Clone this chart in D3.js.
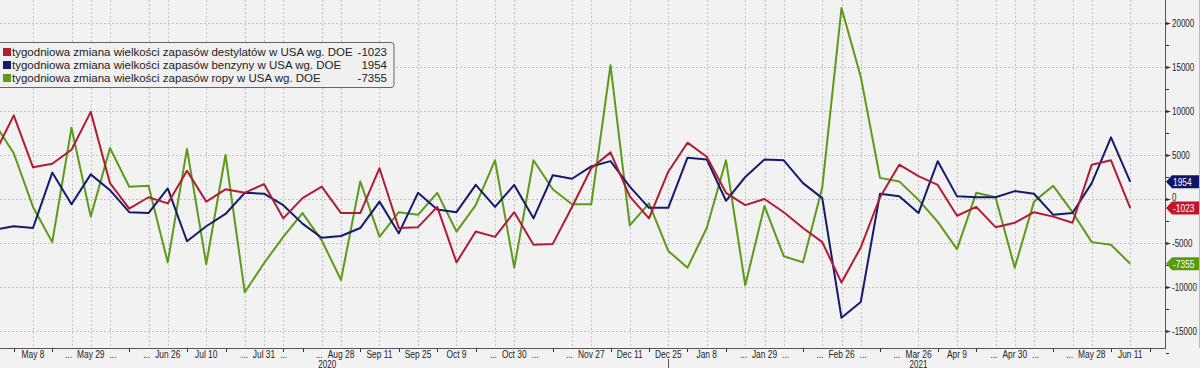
<!DOCTYPE html>
<html>
<head>
<meta charset="utf-8">
<title>zapasy DOE</title>
<script src="https://d3js.org/d3.v7.min.js"></script>
<style>
  body { margin:0; background:#f2f2f2; }
  svg { display:block; }
  .ax { font-family:"Liberation Sans",sans-serif; font-size:10.5px; fill:#222; }
  .leg { font-family:"Liberation Sans",sans-serif; font-size:11.5px; fill:#222; }
</style>
</head>
<body>
<script>
// weekly data, first point 2020-04-24
var firstDate = "2020-04-24";

var distillates = [5100, 9500, 3600, 4000, 5600, 9900, 1800, -1100, 200, -500,
  3200, -300, 1100, 700, 1700, -2200, 100, 1400, -1600, -1600,
  3500, -3300, -3200, -900, -7200, -3700, -4300, -1500, -5200, -5100,
  -900, 3500, 5300, 300, -2200, 3100, 6400, 4800, 700, -700,
  0, -1500, -3300, -4900, -9500, -5500, 200, 3900, 2600, 1600,
  -1900, -900, -3200, -2700, -1500, -2000, -2700, 3900, 4400, -1023];

var gasoline = [-3500, -3100, -3300, 3000, -600, 2800, 1000, -1500, -1600, 1200,
  -4800, -3100, -1700, 700, 600, -700, -2800, -4400, -4200, -3300,
  -300, -3900, 700, -1200, -1500, 1600, -900, 1600, -2200, 2700,
  2300, 3700, 4300, 1400, -1000, -1000, 4700, 4500, -200, 2500,
  4500, 4400, 1800, 100, -13500, -11700, 600, 300, -1600, 4300,
  300, 200, 200, 900, 600, -1800, -1600, 1800, 7000, 1954];

var crude = [8600, 5200, -900, -4900, 8100, -2000, 5800, 1400, 1500, -7200,
  5700, -7400, 5000, -10600, -7300, -4300, -1600, -4700, -9200, 2000,
  -4300, -1500, -1800, 700, -3700, -700, 4400, -7800, 4400, 1100,
  -600, -600, 15200, -3000, -500, -5900, -7800, -3300, 4400, -9800,
  -800, -6500, -7200, 1300, 21700, 13900, 2400, 2000, -100, -2600,
  -5700, 700, 200, -7800, -300, 1500, -1500, -4900, -5200, -7355];

var seriesNames = [
  "tygodniowa zmiana wielkości zapasów destylatów w USA wg. DOE",
  "tygodniowa zmiana wielkości zapasów benzyny w USA wg. DOE",
  "tygodniowa zmiana wielkości zapasów ropy w USA wg. DOE"
];
var seriesColors = ["#b01c34", "#141a6c", "#5c9a18"];
var tagColors = ["#c0162b", "#0e1568", "#5a9a10"];

var yTicks = [-15000, -10000, -5000, 0, 5000, 10000, 15000, 20000];
var yMinor = [-17500, -12500, -7500, -2500, 2500, 7500, 12500, 17500];

var labelDates = ["2020-05-08", "2020-05-29", "2020-06-26", "2020-07-10", "2020-07-31",
  "2020-08-28", "2020-09-11", "2020-09-25", "2020-10-09", "2020-10-30", "2020-11-27",
  "2020-12-11", "2020-12-25", "2021-01-08", "2021-01-29", "2021-02-26", "2021-03-26",
  "2021-04-09", "2021-04-30", "2021-05-28", "2021-06-11"];
var labelTexts = ["May 8", "May 29", "Jun 26", "Jul 10", "Jul 31", "Aug 28", "Sep 11",
  "Sep 25", "Oct 9", "Oct 30", "Nov 27", "Dec 11", "Dec 25", "Jan 8", "Jan 29", "Feb 26",
  "Mar 26", "Apr 9", "Apr 30", "May 28", "Jun 11"];
// "..." shown before (b), after (a) or on both sides (ba)
var labelDots = ["", "ba", "b", "", "ba", "b", "", "", "", "ba", "b", "", "", "", "ba", "ba",
  "b", "", "ba", "b", ""];

var gridDates = ["2020-05-08", "2020-05-22", "2020-05-29", "2020-06-05", "2020-06-19",
  "2020-06-26", "2020-07-10", "2020-07-24", "2020-07-31", "2020-08-07", "2020-08-21",
  "2020-08-28", "2020-09-11", "2020-09-25", "2020-10-09", "2020-10-23", "2020-10-30",
  "2020-11-20", "2020-11-27", "2020-12-11", "2020-12-25", "2021-01-08", "2021-01-22",
  "2021-01-29", "2021-02-05", "2021-02-19", "2021-02-26", "2021-03-05", "2021-03-26",
  "2021-04-09", "2021-04-23", "2021-04-30", "2021-05-07", "2021-05-21", "2021-05-28",
  "2021-06-11"];
var tickDates = ["2020-05-01", "2020-05-15", "2020-06-12", "2020-07-03", "2020-07-17",
  "2020-08-07", "2020-08-14", "2020-09-04", "2020-09-18", "2020-10-02", "2020-10-16",
  "2020-11-13", "2020-12-04", "2020-12-18", "2021-01-01", "2021-01-15", "2021-02-12",
  "2021-03-12", "2021-04-02", "2021-04-16", "2021-05-14", "2021-06-04", "2021-06-18"];
var yearDates = ["2020-08-23", "2021-03-26"];
var yearTexts = ["2020", "2021"];
var yearSep = "2020-12-25";

var W = 1200, H = 368;
var axisX = 1165, axisY = 348;
var squeeze = 0.8;
var parse = d3.utcParse("%Y-%m-%d");

var x = d3.scaleUtc()
  .domain([parse("2020-05-08"), parse("2021-06-11")])
  .range([33, 1130.25]);
var y = d3.scaleLinear()
  .domain([-15000, 20000])
  .range([331, 23]);

var start = parse(firstDate);
var dates = distillates.map(function(d, i) { return d3.utcDay.offset(start, 7 * i); });
var series = [distillates, gasoline, crude];

// narrow axis text: place at (px,py) and squeeze horizontally
function axText(g, px, py, txt, anchor) {
  return g.append("text")
    .attr("class", "ax")
    .attr("transform", "translate(" + px + "," + py + ") scale(" + squeeze + ",1)")
    .attr("text-anchor", anchor || "start")
    .text(txt);
}

var svg = d3.select("body").append("svg")
  .attr("width", W)
  .attr("height", H);

svg.append("rect").attr("width", W).attr("height", H).attr("fill", "#f2f2f2");

// grid
svg.append("g")
  .selectAll("line")
  .data(yTicks)
  .enter().append("line")
  .attr("x1", 0).attr("x2", axisX)
  .attr("y1", function(d) { return Math.round(y(d)) + 0.5; })
  .attr("y2", function(d) { return Math.round(y(d)) + 0.5; })
  .attr("stroke", "#c4c4c4")
  .attr("stroke-dasharray", "2,2");

svg.append("g")
  .selectAll("line")
  .data(gridDates)
  .enter().append("line")
  .attr("x1", function(d) { return Math.round(x(parse(d))) + 0.5; })
  .attr("x2", function(d) { return Math.round(x(parse(d))) + 0.5; })
  .attr("y1", 0).attr("y2", axisY)
  .attr("stroke", "#c4c4c4")
  .attr("stroke-dasharray", "2,2");

// lines
svg.append("clipPath").attr("id", "clip")
  .append("rect").attr("x", 0).attr("y", 0).attr("width", axisX).attr("height", axisY);

var line = d3.line()
  .x(function(d, i) { return x(dates[i]); })
  .y(function(d) { return y(d); });

var plot = svg.append("g").attr("clip-path", "url(#clip)");
[2, 1, 0].forEach(function(s) {
  plot.append("path")
    .datum(series[s])
    .attr("d", line)
    .attr("fill", "none")
    .attr("stroke", seriesColors[s])
    .attr("stroke-width", 2)
    .attr("stroke-linejoin", "round");
});

// axes
svg.append("line")
  .attr("x1", axisX + 0.5).attr("x2", axisX + 0.5)
  .attr("y1", 0).attr("y2", axisY + 1)
  .attr("stroke", "#555");
svg.append("line")
  .attr("x1", 0).attr("x2", axisX + 1)
  .attr("y1", axisY + 0.5).attr("y2", axisY + 0.5)
  .attr("stroke", "#555");

var yAxis = svg.append("g");
yAxis.selectAll(".maj")
  .data(yTicks)
  .enter().append("path")
  .attr("d", function(d) {
    var yy = Math.round(y(d)) + 0.5;
    return "M" + (axisX + 1) + "," + (yy - 1.5) + "L" + (axisX + 6) + "," + yy + "L" + (axisX + 1) + "," + (yy + 1.5) + "Z";
  })
  .attr("fill", "#333");
yAxis.selectAll(".min")
  .data(yMinor)
  .enter().append("line")
  .attr("x1", axisX + 1).attr("x2", axisX + 4)
  .attr("y1", function(d) { return Math.round(y(d)) + 0.5; })
  .attr("y2", function(d) { return Math.round(y(d)) + 0.5; })
  .attr("stroke", "#333");
yTicks.forEach(function(d) {
  // the zero label sits just above the red end tag, as in the original
  var off = d === 0 ? 2 : 4;
  axText(yAxis, axisX + 7, y(d) + off, d).style("font-size", "10px");
});

var xAxis = svg.append("g");
xAxis.selectAll("line")
  .data(tickDates)
  .enter().append("line")
  .attr("x1", function(d) { return Math.round(x(parse(d))) + 0.5; })
  .attr("x2", function(d) { return Math.round(x(parse(d))) + 0.5; })
  .attr("y1", axisY + 1).attr("y2", axisY + 4)
  .attr("stroke", "#333");

labelDates.forEach(function(d, i) {
  var cx = x(parse(d));
  var t = axText(xAxis, cx, 358, labelTexts[i], "middle");
  var half = t.node().getComputedTextLength() * squeeze / 2;
  if (labelDots[i].indexOf("b") >= 0) axText(xAxis, cx - half - 5, 358, "...", "end");
  if (labelDots[i].indexOf("a") >= 0) axText(xAxis, cx + half + 5, 358, "...", "start");
});

yearDates.forEach(function(d, i) {
  axText(xAxis, x(parse(d)), 367.5, yearTexts[i], "middle").style("font-size", "10px");
});
xAxis.append("line")
  .attr("x1", Math.round(x(parse(yearSep))) + 0.5)
  .attr("x2", Math.round(x(parse(yearSep))) + 0.5)
  .attr("y1", 359).attr("y2", H)
  .attr("stroke", "#555");

// last value tags
series.forEach(function(s, i) {
  var v = s[s.length - 1];
  var yy = y(v);
  svg.append("path")
    .attr("d", "M" + (axisX + 1) + "," + yy + "L" + (axisX + 7) + "," + (yy - 6.5) + "L" + W + "," + (yy - 6.5) +
      "L" + W + "," + (yy + 6.5) + "L" + (axisX + 7) + "," + (yy + 6.5) + "Z")
    .attr("fill", tagColors[i]);
  axText(svg, axisX + 8, yy + 4, v).style("fill", "#fff");
});

svg.append("line")
  .attr("x1", W - 0.5).attr("x2", W - 0.5)
  .attr("y1", 0).attr("y2", axisY)
  .attr("stroke", "#9cc3e8");

// legend
var leg = svg.append("g");
leg.append("rect")
  .attr("x", -4).attr("y", 42.5)
  .attr("width", 398).attr("height", 45)
  .attr("rx", 3)
  .attr("fill", "#f0f0f0")
  .attr("stroke", "#666");
seriesNames.forEach(function(n, i) {
  var ry = 52 + i * 13;
  leg.append("rect")
    .attr("x", 3).attr("y", ry - 4)
    .attr("width", 8).attr("height", 8)
    .attr("fill", seriesColors[i]);
  leg.append("text")
    .attr("class", "leg")
    .attr("x", 12).attr("y", ry + 4)
    .text(n);
  var s = series[i];
  leg.append("text")
    .attr("class", "leg")
    .attr("x", 387).attr("y", ry + 4)
    .attr("text-anchor", "end")
    .text(s[s.length - 1]);
});
</script>
</body>
</html>
